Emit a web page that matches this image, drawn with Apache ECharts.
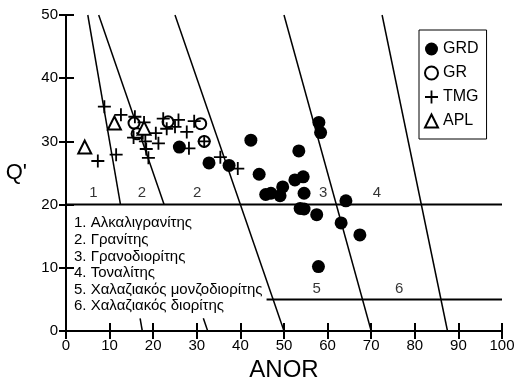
<!DOCTYPE html>
<html>
<head>
<meta charset="utf-8">
<script src="https://cdn.jsdelivr.net/npm/echarts@6/dist/echarts.min.js"></script>
<style>
  html, body { margin: 0; padding: 0; background: #fff; }
  #chart { width: 517px; height: 383px; }
</style>
</head>
<body>
<div id="chart"></div>
<script>
// ANOR vs Q' values
var grd = [
  [26.0, 29.1], [32.8, 26.6], [37.4, 26.2], [42.4, 30.2], [44.3, 24.8],
  [45.8, 21.6], [47.0, 21.8], [49.1, 21.4], [49.7, 22.8], [52.5, 23.9],
  [54.4, 24.4], [53.4, 28.5], [54.6, 21.8], [58.0, 33.0], [58.4, 31.4],
  [53.7, 19.4], [54.6, 19.3], [57.5, 18.4], [64.2, 20.6], [63.1, 17.1],
  [67.4, 15.2], [57.9, 10.2]
]
var gr = [
  [15.6, 32.9], [16.3, 31.2], [23.4, 33.1], [30.9, 32.8], [31.7, 30.0]
]
var tmg = [
  [8.8, 35.5], [12.6, 34.2], [7.3, 26.9], [11.5, 27.9], [15.8, 33.9],
  [15.5, 30.6], [17.6, 31.3], [17.9, 33.0], [18.2, 30.0], [18.4, 28.8],
  [18.9, 27.4], [20.6, 31.3], [21.2, 29.7], [22.3, 33.6], [23.1, 32.0],
  [25.0, 32.3], [25.8, 33.4], [27.7, 31.5], [29.4, 33.2], [28.2, 28.9],
  [31.7, 30.0], [35.4, 27.5], [39.4, 25.7]
]
var apl = [
  [4.3, 29.1], [11.1, 32.9], [17.9, 32.1]
]

// field boundaries (segments hidden behind the name list are left out)
var boundaries = [
  [[5, 50], [12.5, 20]], [[17.0, 2], [17.5, 0]],
  [[7.5, 50], [22.5, 20]], [[31.5, 2], [32.5, 0]],
  [[25, 50], [50, 0]],
  [[50, 50], [70, 0]],
  [[72.5, 50], [87.5, 0]]
]
var hLines = [
  [[0, 20], [100, 20]],
  [[46, 5], [100, 5]]
]
var fieldLabels = [
  [6.3, 21.8, '1'], [17.4, 21.8, '2'], [30.1, 21.8, '2'],
  [59.0, 21.9, '3'], [71.3, 21.9, '4'], [57.5, 6.6, '5'], [76.4, 6.7, '6']
]
var fieldNames = [
  '1. Αλκαλιγρανίτης',
  '2. Γρανίτης',
  '3. Γρανοδιορίτης',
  '4. Τοναλίτης',
  '5. Χαλαζιακός μονζοδιορίτης',
  '6. Χαλαζιακός διορίτης'
]

var font = '"Liberation Sans", Arial, sans-serif'
var plusPath = 'path://M4.3,0h1.4v4.3h4.3v1.4h-4.3v4.3h-1.4v-4.3h-4.3v-1.4h4.3z'

var chart = echarts.init(document.getElementById('chart'))

var series = []
boundaries.concat(hLines).forEach(function(seg, i) {
  series.push({
    name: 'b' + i,
    type: 'line',
    data: seg,
    symbol: 'none',
    silent: true,
    lineStyle: { color: '#000', width: i < boundaries.length ? 1.5 : 2 },
    z: 1
  })
})
series.push({
  name: 'GRD',
  type: 'scatter',
  data: grd,
  symbol: 'circle',
  symbolSize: 13,
  itemStyle: { color: '#000', opacity: 1 }
})
series.push({
  name: 'GR',
  type: 'scatter',
  data: gr,
  symbol: 'emptyCircle',
  symbolSize: 11,
  itemStyle: { color: '#000', borderColor: '#000', borderWidth: 1.6, opacity: 1 }
})
series.push({
  name: 'TMG',
  type: 'scatter',
  data: tmg,
  symbol: plusPath,
  symbolSize: 13,
  itemStyle: { color: '#000', opacity: 1 }
})
series.push({
  name: 'APL',
  type: 'scatter',
  data: apl,
  symbol: 'emptyTriangle',
  symbolSize: 13,
  itemStyle: { color: '#000', borderColor: '#000', borderWidth: 1.6, opacity: 1 }
})
series.push({
  name: 'labels',
  type: 'scatter',
  data: fieldLabels,
  symbolSize: 0,
  silent: true,
  label: {
    show: true,
    position: 'inside',
    formatter: function(p) { return p.value[2] },
    color: '#000',
    fontSize: 15,
    fontFamily: font
  }
})

chart.setOption({
  animation: false,
  backgroundColor: '#fff',
  textStyle: { fontFamily: font },
  grid: { left: 66, right: 15, top: 15, bottom: 52, outerBoundsMode: 'none' },
  legend: {
    data: ['GRD', 'GR', 'TMG', 'APL'],
    orient: 'vertical',
    left: 419,
    top: 30,
    padding: [11, 8, 10, 5],
    itemGap: 8,
    itemWidth: 13,
    itemHeight: 13,
    borderColor: '#000',
    borderWidth: 1,
    backgroundColor: '#fff',
    textStyle: { color: '#000', fontSize: 16, fontFamily: font }
  },
  xAxis: [{
    type: 'value',
    min: 0,
    max: 100,
    interval: 10,
    name: 'ANOR',
    nameLocation: 'middle',
    nameGap: 27,
    nameTextStyle: { fontSize: 24, color: '#000', fontFamily: font },
    splitLine: { show: false },
    axisLine: { lineStyle: { color: '#000', width: 2 } },
    axisTick: { inside: true, length: 8, lineStyle: { color: '#000', width: 2 } },
    axisLabel: { color: '#000', fontSize: 15, margin: 7, fontFamily: font }
  }, {
    type: 'value',
    position: 'top',
    min: 0,
    max: 100,
    interval: 10,
    splitLine: { show: false },
    axisLine: { lineStyle: { color: '#000', width: 2 } },
    axisTick: { inside: true, length: 8, lineStyle: { color: '#000', width: 2 } },
    axisLabel: { show: false }
  }],
  yAxis: [{
    type: 'value',
    min: 0,
    max: 50,
    interval: 10,
    name: "Q'",
    nameLocation: 'middle',
    nameRotate: 0,
    nameGap: 39,
    nameTextStyle: { fontSize: 22, color: '#000', fontFamily: font },
    splitLine: { show: false },
    axisLine: { lineStyle: { color: '#000', width: 2 } },
    axisTick: { inside: true, length: 8, lineStyle: { color: '#000', width: 2 } },
    axisLabel: { color: '#000', fontSize: 15, margin: 8, fontFamily: font }
  }, {
    type: 'value',
    position: 'right',
    min: 0,
    max: 50,
    interval: 10,
    splitLine: { show: false },
    axisLine: { lineStyle: { color: '#000', width: 2 } },
    axisTick: { inside: true, length: 7, lineStyle: { color: '#000', width: 2 } },
    axisLabel: { show: false }
  }],
  graphic: [{
    type: 'text',
    left: 74,
    top: 215,
    z: 100,
    style: {
      text: fieldNames.join('\n'),
      font: '15px ' + font,
      lineHeight: 16.6,
      fill: '#000'
    }
  }],
  series: series
})
</script>
</body>
</html>
